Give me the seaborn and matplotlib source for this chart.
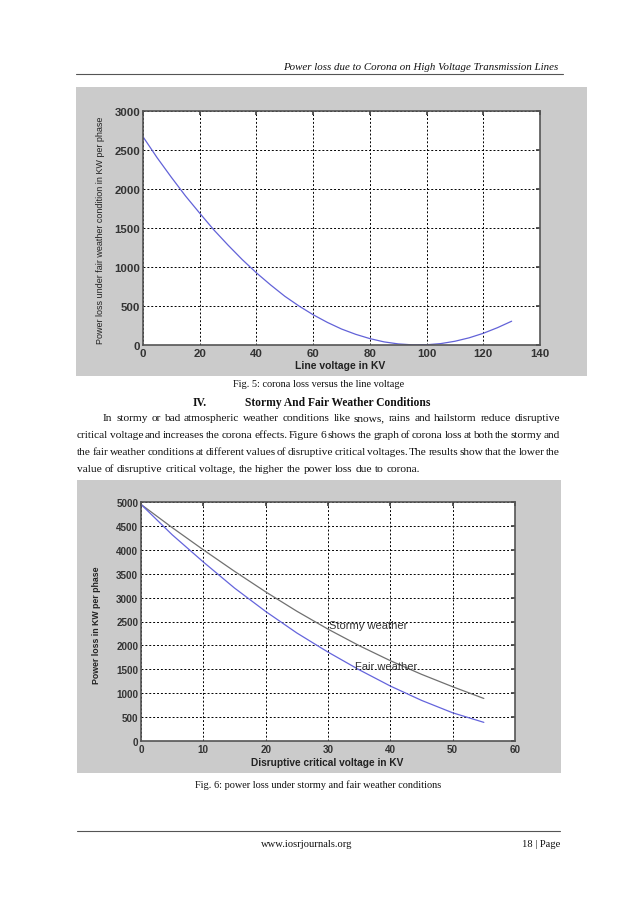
import numpy as np
import pandas as pd
import seaborn as sns
from matplotlib import pyplot as plt
from matplotlib.patches import Rectangle
from matplotlib.lines import Line2D

# fig. 5 : corona loss against line voltage
line_kv = [0, 5, 10, 15, 20, 25, 30, 35, 40, 45, 50, 55, 60, 65,
           70, 75, 80, 85, 90, 95, 100, 105, 110, 115, 120, 125, 130]
loss_fair = [2670, 2400, 2150, 1910, 1690, 1475, 1280, 1095, 925, 770, 625, 500, 388, 290,
             205, 137, 82, 40, 14, 2, 3, 18, 48, 92, 150, 222, 305]

# fig. 6 : stormy vs fair weather
crit_kv = [0, 5, 10, 15, 20, 25, 30, 35, 40, 45, 50, 55]
loss_stormy = [4950, 4465, 4000, 3550, 3120, 2715, 2340, 1995, 1680, 1395, 1135, 890]
loss_fair6 = [4950, 4315, 3745, 3200, 2710, 2260, 1860, 1490, 1150, 850, 590, 390]

W, H = 638, 903

body_lines = [
    "In stormy or bad atmospheric weather conditions like snows, rains and hailstorm reduce disruptive",
    "critical voltage and increases the corona effects. Figure 6 shows the graph of corona loss at both the stormy and",
    "the fair weather conditions at different values of disruptive critical voltages. The results show that the lower the",
    "value of disruptive critical voltage, the higher the power loss due to corona.",
]


def fx(px):
    return px / W


def fy(py):
    return 1 - py / H


def axes_px(fig, left, top, right, bottom):
    return fig.add_axes([fx(left), fy(bottom), (right - left) / W, (bottom - top) / H])


def style_axes(ax, size):
    ax.set_facecolor('white')
    ax.grid(True, color='black', linestyle=(0, (2, 2)), linewidth=0.7)
    ax.tick_params(direction='in', length=3, top=True, right=True, color='#444444',
                   labelsize=size, labelcolor='#333333', pad=2)
    for lab in ax.get_xticklabels() + ax.get_yticklabels():
        lab.set_fontweight('bold')
    for s in ax.spines.values():
        s.set_color('#555555')
        s.set_linewidth(1.2)
        s.set_visible(True)
    ax.set_xlabel('')
    ax.set_ylabel('')
    ax.set_axisbelow(True)


def justified(fig, text, x0, x1, y, size, renderer, justify=True):
    words = text.split(' ')
    objs = [fig.text(0, fy(y), w, fontsize=size, family='Liberation Serif',
                     va='center', ha='left', color='#111111') for w in words]
    widths = [o.get_window_extent(renderer).width for o in objs]
    space = size * 100 / 72 * 0.25
    if justify and len(words) > 1:
        space = (x1 - x0 - sum(widths)) / (len(words) - 1)
    x = x0
    for o, w in zip(objs, widths):
        o.set_x(fx(x))
        x += w + space


def main():
    sns.set_theme(style='white')
    plt.rcParams['font.family'] = ['Liberation Sans', 'DejaVu Sans']

    fig = plt.figure(figsize=(W / 100, H / 100), dpi=100)
    fig.patch.set_facecolor('white')

    # page header
    fig.text(fx(558), fy(67), 'Power loss due to Corona on High Voltage Transmission Lines',
             ha='right', va='center', fontsize=7.8, style='italic', family='Liberation Serif',
             color='#111111')
    fig.add_artist(Line2D([fx(76), fx(563)], [fy(75), fy(75)], color='#555555', lw=0.8))

    # grey panels behind the figures
    fig.add_artist(Rectangle((fx(76), fy(377)), (587 - 76) / W, (377 - 88) / H,
                             facecolor='#cbcbcb', edgecolor='none', zorder=0))
    fig.add_artist(Rectangle((fx(77), fy(774)), (561 - 77) / W, (774 - 481) / H,
                             facecolor='#cbcbcb', edgecolor='none', zorder=0))

    # figure 5
    df5 = pd.DataFrame({'kv': line_kv, 'loss': loss_fair})
    ax1 = axes_px(fig, 143, 112, 540, 346)
    sns.lineplot(data=df5, x='kv', y='loss', ax=ax1, color='#6262d8', linewidth=0.9)
    ax1.set_xlim(0, 140)
    ax1.set_ylim(0, 3000)
    ax1.set_xticks(np.arange(0, 141, 20))
    ax1.set_yticks(np.arange(0, 3001, 500))
    style_axes(ax1, 8.2)
    ax1.text(-0.108, 0.496, 'Power loss under fair weather condition in KW per phase',
             transform=ax1.transAxes, rotation=90, ha='center', va='center',
             fontsize=6.5, color='#222222')
    ax1.text(0.497, -0.085, 'Line voltage in KV', transform=ax1.transAxes,
             ha='center', va='center', fontsize=7.5, fontweight='bold', color='#222222')

    fig.text(fx(319), fy(385), 'Fig. 5: corona loss versus the line voltage', ha='center',
             va='center', fontsize=7.4, family='Liberation Serif', color='#111111')

    # section heading
    fig.text(fx(193), fy(403), 'IV.', ha='left', va='center', fontsize=8.3,
             fontweight='bold', family='Liberation Serif', color='#111111')
    fig.text(fx(245), fy(403), 'Stormy And Fair Weather Conditions', ha='left', va='center',
             fontsize=8.3, fontweight='bold', family='Liberation Serif', color='#111111')

    renderer = fig.canvas.get_renderer()
    ys = [419, 436, 453, 470]
    justified(fig, body_lines[0], 103, 560, ys[0], 8.2, renderer)
    justified(fig, body_lines[1], 77, 560, ys[1], 8.2, renderer)
    justified(fig, body_lines[2], 77, 560, ys[2], 8.2, renderer)
    justified(fig, body_lines[3], 77, 560, ys[3], 8.2, renderer, justify=False)

    # figure 6
    df6 = pd.DataFrame({'kv': crit_kv * 2,
                        'loss': loss_stormy + loss_fair6,
                        'weather': ['Stormy weather'] * len(crit_kv) + ['Fair weather'] * len(crit_kv)})
    ax2 = axes_px(fig, 141, 503, 515, 742)
    sns.lineplot(data=df6, x='kv', y='loss', hue='weather', ax=ax2, linewidth=0.9,
                 palette={'Stormy weather': '#707070', 'Fair weather': '#6464dc'}, legend=False)
    ax2.set_xlim(0, 60)
    ax2.set_ylim(0, 5000)
    ax2.set_xticks(np.arange(0, 61, 10))
    ax2.set_yticks(np.arange(0, 5001, 500))
    style_axes(ax2, 7.1)
    ax2.text(30.2, 2420, 'Stormy weather', ha='left', va='center', fontsize=8, color='#333333')
    ax2.text(34.3, 1560, 'Fair weather', ha='left', va='center', fontsize=8, color='#333333')
    ax2.text(-0.118, 0.49, 'Power loss in KW per phase', transform=ax2.transAxes, rotation=90,
             ha='center', va='center', fontsize=6.3, fontweight='bold', color='#222222')
    ax2.text(0.497, -0.088, 'Disruptive critical voltage in KV', transform=ax2.transAxes,
             ha='center', va='center', fontsize=7.3, fontweight='bold', color='#222222')

    fig.text(fx(318), fy(785), 'Fig. 6: power loss under stormy and fair weather conditions',
             ha='center', va='center', fontsize=7.4, family='Liberation Serif', color='#111111')

    # footer
    fig.add_artist(Line2D([fx(77), fx(560)], [fy(832), fy(832)], color='#555555', lw=0.8))
    fig.text(fx(307), fy(845), 'www.iosrjournals.org', ha='center', va='center', fontsize=7.6,
             family='Liberation Serif', color='#111111')
    fig.text(fx(560), fy(845), '18 | Page', ha='right', va='center', fontsize=7.6,
             family='Liberation Serif', color='#111111')

    fig.savefig('out.png', dpi=100, facecolor='white')


if __name__ == '__main__':
    main()
